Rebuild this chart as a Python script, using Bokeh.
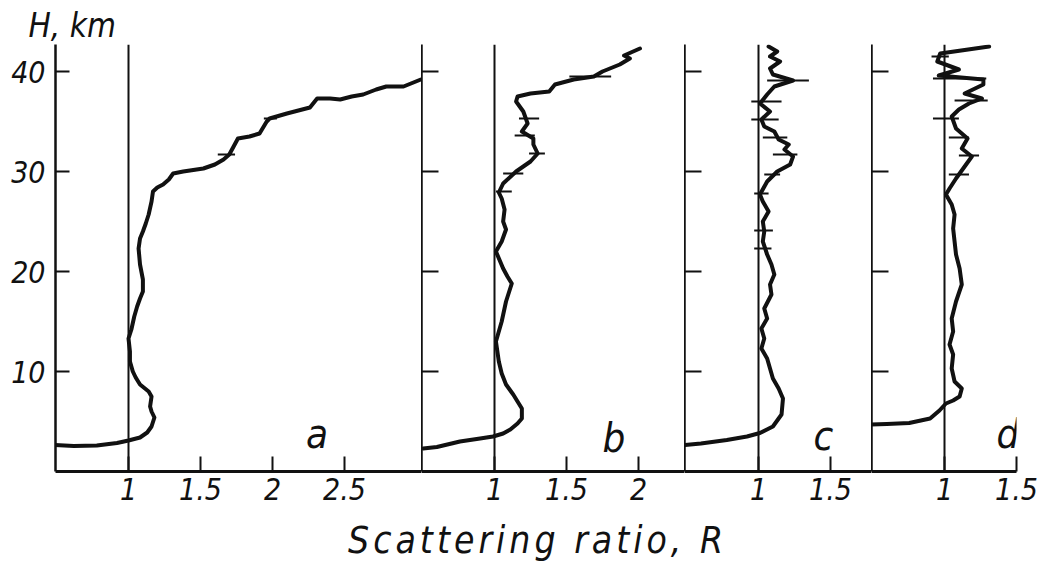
from bokeh.plotting import figure
from bokeh.layouts import row, column
from bokeh.models import Range1d, FixedTicker, Span, Div, Label
from bokeh.embed import file_html
from bokeh.resources import INLINE

# ---------------- data ----------------
# panel a
a_R = [0.49, 0.62, 0.78, 0.92, 1.00, 1.08, 1.13, 1.16, 1.18, 1.16, 1.15, 1.16, 1.14, 1.08, 1.05,
       1.03, 1.01, 1.01, 1.00, 1.02, 1.04, 1.06, 1.08, 1.10, 1.10, 1.08, 1.07, 1.08, 1.10, 1.12,
       1.14, 1.16, 1.17, 1.20, 1.24, 1.28, 1.31, 1.38, 1.52, 1.60, 1.66, 1.70, 1.73, 1.76, 1.84,
       1.91, 1.96, 1.98, 2.10, 2.26, 2.31, 2.40, 2.47, 2.55, 2.63, 2.72, 2.79, 2.91, 3.03]
a_H = [2.65, 2.55, 2.6, 2.85, 3.1, 3.4, 3.9, 4.5, 5.4, 6.0, 6.5, 7.5, 8.0, 8.7, 9.4,
       10.0, 11.0, 12.0, 13.3, 14.2, 15.5, 16.5, 17.3, 18.0, 19.2, 20.7, 22.3, 23.3, 24.0, 24.8,
       25.7, 27.0, 28.0, 28.4, 28.7, 29.2, 29.8, 30.0, 30.3, 30.7, 31.2, 31.7, 32.5, 33.3, 33.5,
       33.8, 35.0, 35.3, 35.8, 36.4, 37.3, 37.3, 37.2, 37.5, 37.7, 38.2, 38.5, 38.5, 39.2]
a_err_H = [31.7, 35.3]
a_err_lo = [1.62, 1.94]
a_err_hi = [1.74, 2.03]

# panel b
b_R = [0.505, 0.60, 0.76, 0.90, 0.99, 1.06, 1.11, 1.16, 1.19, 1.19, 1.16, 1.13, 1.08, 1.05, 1.03,
       1.01, 1.03, 1.05, 1.08, 1.12, 1.09, 1.06, 1.01, 1.05, 1.08, 1.06, 1.07, 1.05, 1.03, 1.06,
       1.15, 1.25, 1.30, 1.27, 1.27, 1.19, 1.23, 1.20, 1.15, 1.16, 1.25, 1.38, 1.42, 1.55, 1.69,
       1.75, 1.87, 1.94, 1.90, 2.01]
b_H = [2.3, 2.45, 3.0, 3.3, 3.5, 3.8, 4.2, 4.8, 5.3, 6.3, 7.0, 7.7, 8.7, 9.8, 11.0,
       13.0, 14.0, 15.0, 17.0, 18.8, 19.5, 20.3, 22.0, 23.0, 24.2, 25.0, 26.2, 27.3, 27.9, 28.8,
       30.0, 31.0, 31.8, 32.7, 33.3, 34.0, 34.8, 36.0, 37.0, 37.5, 37.8, 38.0, 38.7, 39.2, 39.5,
       40.0, 40.7, 41.3, 41.6, 42.3]
b_err_H = [39.5, 35.3, 33.6, 31.8, 29.8, 28.0]
b_err_lo = [1.52, 1.17, 1.14, 1.24, 1.06, 1.01]
b_err_hi = [1.81, 1.31, 1.28, 1.35, 1.20, 1.12]

# panel c
c_R = [0.49, 0.60, 0.78, 0.92, 1.01, 1.10, 1.16, 1.17, 1.14, 1.10, 1.08, 1.06, 1.02, 1.04, 1.02,
       1.06, 1.04, 1.09, 1.08, 1.11, 1.09, 1.06, 1.03, 1.04, 1.03, 1.07, 1.03, 1.01, 1.06, 1.13,
       1.22, 1.24, 1.18, 1.21, 1.14, 1.11, 1.04, 1.02, 1.08, 1.01, 1.06, 1.11, 1.24, 1.10, 1.08,
       1.15, 1.08, 1.13, 1.07]
c_H = [2.65, 2.8, 3.15, 3.5, 3.85, 4.5, 5.7, 7.3, 8.3, 9.3, 10.3, 11.3, 12.3, 13.3, 14.3,
       15.3, 16.3, 17.7, 18.7, 19.7, 20.7, 21.7, 23.0, 24.0, 25.0, 26.0, 27.0, 27.7, 29.0, 30.0,
       30.7, 31.5, 32.2, 32.7, 33.2, 34.0, 34.5, 35.2, 36.0, 36.8, 37.7, 38.5, 39.1, 39.7, 40.3,
       41.0, 41.5, 42.0, 42.5]
c_err_H = [39.1, 37.0, 35.2, 33.4, 31.7, 29.7, 27.8, 24.1, 22.3]
c_err_lo = [1.06, 0.95, 0.95, 1.03, 1.10, 1.04, 0.97, 0.97, 0.97]
c_err_hi = [1.35, 1.16, 1.14, 1.20, 1.27, 1.15, 1.07, 1.10, 1.09]

# panel d
d_R = [0.49, 0.60, 0.755, 0.90, 0.965, 1.01, 1.06, 1.105, 1.12, 1.07, 1.05, 1.06, 1.035, 1.06, 1.05,
       1.08, 1.12, 1.105, 1.08, 1.07, 1.06, 1.07, 1.05, 1.01, 1.035, 1.08, 1.13, 1.19, 1.12, 1.16,
       1.08, 1.05, 1.10, 1.17, 1.26, 1.14, 1.27, 1.27, 0.96, 1.10, 0.95, 0.97, 1.31]
d_H = [4.7, 4.75, 4.85, 5.3, 6.1, 6.8, 7.1, 7.5, 8.3, 9.0, 10.3, 11.7, 12.7, 14.0, 15.3,
       17.0, 18.7, 20.3, 21.7, 23.0, 24.3, 25.7, 26.7, 27.7, 28.3, 29.3, 30.3, 31.5, 32.3, 33.3,
       34.3, 35.5, 36.2, 36.8, 37.3, 37.8, 38.7, 39.2, 39.6, 40.2, 41.0, 41.8, 42.5]
d_err_H = [41.5, 39.3, 37.1, 35.3, 33.4, 31.6, 29.7]
d_err_lo = [0.91, 0.92, 1.07, 0.92, 1.03, 1.10, 1.03]
d_err_hi = [1.03, 1.29, 1.30, 1.10, 1.17, 1.24, 1.17]

panel_letters = ["a", "b", "c", "d"]
x_ticks = [[1, 1.5, 2, 2.5], [1, 1.5, 2], [1, 1.5], [1, 1.5]]
y_ticks = [10, 20, 30, 40]

# ---------------- styling / layout ----------------
FONT = "'DejaVu Sans Condensed', 'DejaVu Sans'"
INK = "#111111"
PX_PER_R = 144.0
PX_PER_KM = 10.0
FRAME_TOP = 44
FRAME_BOTTOM = 471
FRAME_H = FRAME_BOTTOM - FRAME_TOP


def tick_label(t):
    return str(int(t)) if float(t).is_integer() else str(t)


def make_panel(R, H, eH, elo, ehi, letter, letter_pos, ticks, x_start, frame_w,
               border_left, border_right, first):
    x_end = x_start + frame_w / PX_PER_R
    p = figure(frame_width=frame_w, frame_height=FRAME_H,
               x_range=Range1d(x_start, x_end), y_range=Range1d(0, FRAME_H / PX_PER_KM),
               output_backend="svg", toolbar_location=None,
               min_border_left=border_left, min_border_right=border_right,
               min_border_top=FRAME_TOP, min_border_bottom=45)
    p.outline_line_color = None
    p.background_fill_color = "white"
    p.border_fill_color = "white"
    p.grid.visible = False

    # x axis
    xa = p.xaxis[0]
    xa.ticker = FixedTicker(ticks=ticks, minor_ticks=[])
    xa.major_label_overrides = {t: tick_label(t) for t in ticks}
    xa.axis_line_width = 3
    xa.axis_line_color = INK
    xa.major_tick_in = 15
    xa.major_tick_out = 0
    xa.major_tick_line_width = 2
    xa.major_tick_line_color = INK
    xa.minor_tick_line_color = None
    xa.major_label_text_font = FONT
    xa.major_label_text_font_style = "italic"
    xa.major_label_text_font_size = "30px"
    xa.major_label_text_color = INK
    xa.major_label_standoff = 6

    # y axis (left border of each panel)
    ya = p.yaxis[0]
    ya.ticker = FixedTicker(ticks=y_ticks, minor_ticks=[])
    ya.axis_line_width = 2.5
    ya.axis_line_color = INK
    ya.major_tick_out = 0
    ya.major_tick_line_width = 2
    ya.major_tick_line_color = INK
    ya.minor_tick_line_color = None
    if first:
        ya.major_tick_in = 14
        ya.major_label_text_font = FONT
        ya.major_label_text_font_style = "italic"
        ya.major_label_text_font_size = "30px"
        ya.major_label_text_color = INK
        ya.major_label_standoff = 10
        p.title.text = "H, km"
        p.title.align = "left"
        p.title.offset = -27
        p.title.standoff = 0
        p.title.text_line_height = 1.0
        p.title.text_font = FONT
        p.title.text_font_style = "italic"
        p.title.text_font_size = "33px"
        p.title.text_color = INK
    else:
        ya.major_tick_in = 17
        ya.major_label_overrides = {t: "" for t in y_ticks}
        ya.major_label_text_font_size = "0px"
        ya.major_label_standoff = 0

    # reference line R = 1
    p.add_layout(Span(location=1, dimension="height", line_color=INK, line_width=2))

    # profile
    p.line(R, H, line_color=INK, line_width=4, line_join="round", line_cap="round")
    # error bars
    p.segment(x0=elo, y0=eH, x1=ehi, y1=eH, line_color=INK, line_width=2)

    p.add_layout(Label(x=letter_pos[0], y=letter_pos[1], text=letter, text_font=FONT,
                       text_font_style="italic", text_font_size="40px", text_color=INK,
                       text_align="center", text_baseline="alphabetic"))
    return p


pa = make_panel(a_R, a_H, a_err_H, a_err_lo, a_err_hi, panel_letters[0], (2.31, 3.8),
                x_ticks[0], 1 - 73 / PX_PER_R, 366, 55, 0, True)
pb = make_panel(b_R, b_H, b_err_H, b_err_lo, b_err_hi, panel_letters[1], (1.83, 3.4),
                x_ticks[1], 1 - 73 / PX_PER_R, 263, 0, 0, False)
pc = make_panel(c_R, c_H, c_err_H, c_err_lo, c_err_hi, panel_letters[2], (1.45, 3.6),
                x_ticks[2], 1 - 74 / PX_PER_R, 187, 0, 0, False)
pd = make_panel(d_R, d_H, d_err_H, d_err_lo, d_err_hi, panel_letters[3], (1.44, 3.8),
                x_ticks[3], 1 - 73 / PX_PER_R, 145, 0, 23, False)

title = Div(text="Scattering ratio, R", width=1000, height=47,
            styles={"font-family": FONT, "font-style": "italic", "font-size": "37px",
                    "line-height": "1", "letter-spacing": "4px", "color": INK,
                    "padding-left": "343px", "padding-top": "1px", "white-space": "nowrap"})

layout = column(row(pa, pb, pc, pd, spacing=0), title, spacing=0)

with open("out.html", "w") as f:
    f.write(file_html(layout, INLINE))
